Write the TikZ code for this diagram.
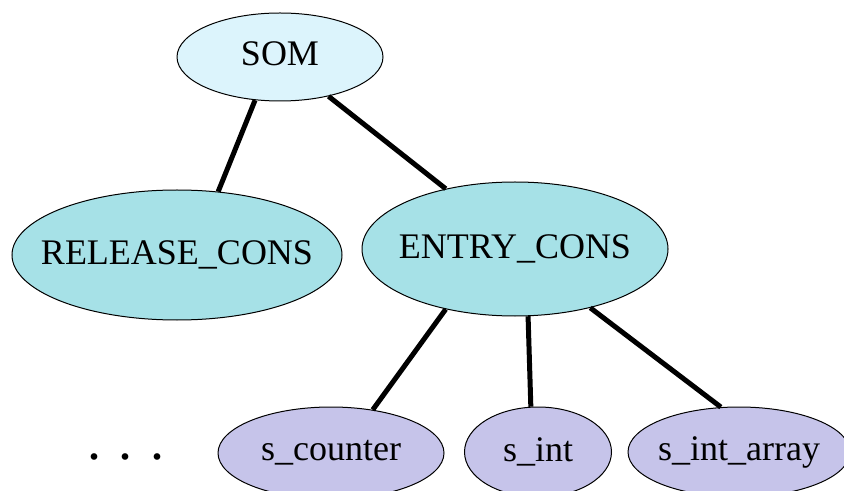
\documentclass[tikz,border=0pt]{standalone}
\usepackage{fontspec}
\setmainfont{Liberation Serif}
\usepackage{tikz}
\usetikzlibrary{positioning}
\usetikzlibrary{shapes.geometric}

\definecolor{topfill}{HTML}{DCF4FC}
\definecolor{midfill}{HTML}{A6E1E7}
\definecolor{leaffill}{HTML}{C6C4EA}

\begin{document}
\begin{tikzpicture}
		[x=0.5pt,y=-0.5pt,main node/.style={shape=ellipse,draw,line width=0.5pt,inner xsep=-40pt,inner ysep=-12pt,font=\fontsize{18}{22}\selectfont},
		link/.style={line width=2.5pt}
		]
		
		\useasboundingbox (0,0) rectangle (844,491);
		
		\node [main node,fill=topfill,minimum width=103pt,minimum height=44pt] (1) at (280,57) {\raisebox{3.5pt}{SOM}};
		\node [main node,fill=midfill,minimum width=165pt,minimum height=65pt] (2) at (177,255) {RELEASE\_CONS};
		\node [main node,fill=midfill,minimum width=153pt,minimum height=67pt] (3) at (515,249) {ENTRY\_CONS};
		\node [main node,fill=leaffill,minimum width=113pt,minimum height=46pt] (4) at (331,453) {s\_counter};
		\node [main node,fill=leaffill,minimum width=73.5pt,minimum height=45pt] (5) at (538,452) {s\_int};
		\node [main node,fill=leaffill,minimum width=111pt,minimum height=45pt] (6) at (739,452) {s\_int\_array};
		
		\node [font=\fontsize{28}{30}\selectfont] (7) at (126,457) {.\hspace{8.6pt}.\hspace{8.6pt}.};
		
		
		\path[link]
		(1.240) edge (2.57)
		
		(1.321) edge (3.139)
		
		(3.221) edge (4.46)
		
		(3.281) edge (5.99)
		
		(3.322) edge (6.112)
		;
		
		\end{tikzpicture}
\end{document}
